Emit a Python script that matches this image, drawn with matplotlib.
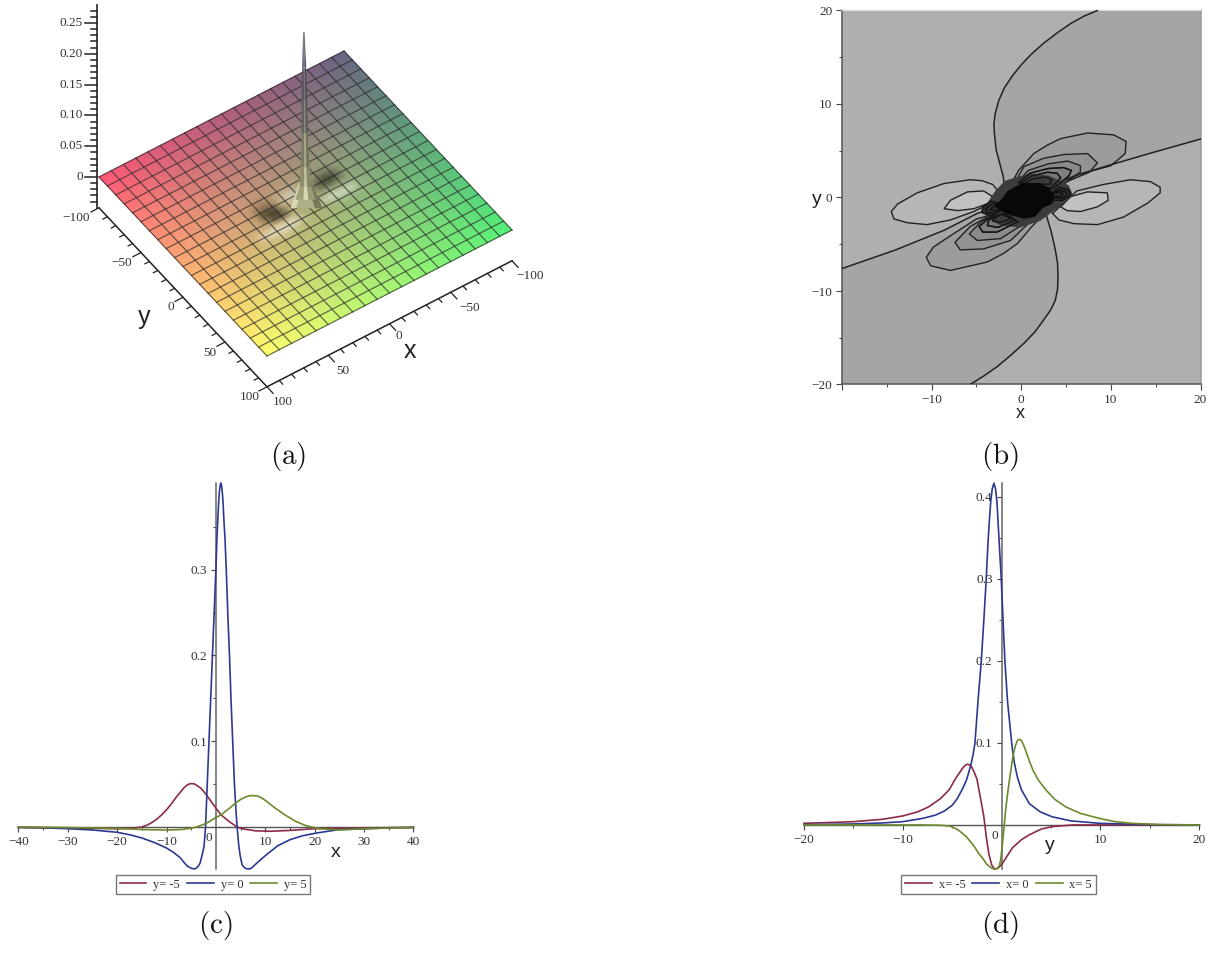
import numpy as np
import matplotlib
matplotlib.use('Agg')
import matplotlib.pyplot as plt
from matplotlib.ticker import FixedLocator, FixedFormatter

plt.rcParams['font.family'] = ['Liberation Serif', 'DejaVu Serif']
plt.rcParams['mathtext.fontset'] = 'cm'

W, H = 1213, 955

# (a) surface: mesh lines, and brightness change in percent around the peak
mesh_vals = list(range(-100, 101, 5))
grid_vals = list(range(-100, 101, 10))
shade_cols = [-45, -40, -35, -30, -25, -20, -15, -10, -5, 0, 5, 10, 15, 20, 25, 30, 35, 40, 45]
shade_rows = [-20, -15, -10, -5, 0, 5, 10, 15]
shade_pct = [
    [0, 0, 0, -5, -8, -5, 0, 0, 5, 8, 10, 5, 0, -5, -8, -5, 0, 0, 0],
    [0, 0, -10, -25, -30, -25, -10, 0, 10, 25, 30, 20, 0, -15, -20, -15, -5, 0, 0],
    [0, 0, -20, -45, -55, -50, -30, -5, 15, 35, 40, 30, 0, -35, -45, -35, -10, 0, 0],
    [0, 0, -10, -20, -30, -30, -20, 0, 10, 20, 20, 10, -20, -55, -60, -40, -10, 0, 0],
    [0, 5, 10, 10, 10, 10, 5, 0, 0, 0, 0, 0, -25, -50, -45, -20, -5, 0, 0],
    [5, 15, 40, 45, 50, 50, 40, 20, 0, 0, 0, 10, 25, 10, 15, 20, 15, 10, 5],
    [0, 5, 10, 15, 15, 15, 10, 5, 0, 0, 5, 25, 45, 55, 55, 55, 50, 40, 20],
    [0, 0, 0, 0, 0, 0, 0, 0, 0, 0, 0, 5, 15, 20, 20, 20, 15, 10, 5],
]
spike_z = [0.278, 0.221, 0.168, 0.114, 0.059, 0.027, 0.006]
spike_hw = [0.7, 2.0, 2.7, 3.3, 4.3, 6.0, 10.0]
spike_left = ['#50505f', '#55555f', '#62625f', '#7c7c66', '#8e8e6e', '#a0a07c']
spike_mid = ['#6a6a78', '#77777c', '#8a8a80', '#acac8c', '#c4c4a0', '#d8d8b4']
spike_right = ['#484856', '#505058', '#5c5c58', '#747460', '#88886a', '#9a9a76']
z_ticks = [0, 0.05, 0.10, 0.15, 0.20, 0.25]
z_labels = ['0', '0.05', '0.10', '0.15', '0.20', '0.25']
xy_ticks = [-100, -50, 0, 50, 100]
y3d_labels = ['\u2212100', '\u221250', '0', '50', '100']
x3d_labels = ['100', '50', '0', '\u221250', '\u2212100']

# (b) contours, x/y in plot units
zero_upper = [(8.5, 20), (7, 19.4), (5.5, 18.6), (4, 17.6), (2.5, 16.5), (1.2, 15.4), (0, 14.2), (-1, 13), (-1.9, 11.7),
              (-2.5, 10.4), (-2.9, 9), (-3.05, 7.9), (-3, 6.9), (-2.9, 6), (-2.8, 5.1), (-2.55, 4.2), (-2.3, 3.3),
              (-2, 2.2), (-1.9, 1.1), (-1.2, 0.1)]
zero_lower = [(-5.7, -20), (-4.2, -19.1), (-2.7, -18.1), (-1.2, -16.9), (0.3, -15.6), (1.5, -14.4), (2.5, -13.1),
              (3.3, -12), (3.8, -11), (4.05, -9.8), (4.1, -8.5), (4.05, -7), (3.8, -5.6), (3.55, -4.5), (3.3, -3.5),
              (2.8, -1.9), (2.5, -1)]
zero_line = [(-20, -7.6), (-14, -5.6), (-8.6, -3.5), (-4.9, -1.7), (-1.2, -0.6), (2.5, 1),
             (6.2, 2.4), (10, 3.5), (15, 4.9), (20, 6.25)]
lobes_left = [
    [(-2.5, 0.6), (-3.2, 1.4), (-4.4, 1.8), (-5.7, 1.9), (-8.6, 1.5), (-11.6, 0.5), (-13.8, -0.7), (-14.5, -1.5),
     (-14.2, -2.3), (-12.7, -2.7), (-10.5, -2.9), (-7.9, -2.4), (-5.3, -1.5), (-3.4, -0.6)],
    [(-3.2, 0.1), (-4.2, 0.7), (-6, 0.6), (-7.9, -0.3), (-8.6, -1.2), (-7.1, -1.4), (-5.3, -1.2),
     (-3.6, -0.6)],
]
lobes_right = [
    [(3.5, -1.7), (4.2, -2.4), (5.9, -2.8), (8.5, -2.9), (11.4, -2.1), (14.1, -0.6), (15.5, 0.5),
     (15.5, 1.1), (14.4, 1.7), (12.2, 1.9), (9.2, 1.4), (6.2, 0.7)],
    [(5.5, 0.1), (7.4, 0.6), (9.6, 0.5), (9.7, -0.3), (8.5, -1), (6.6, -1.5), (5.1, -1.4), (4.4, -1)],
]
lobes_upper = [
    [(-1.2, 1.3), (-0.3, 2.9), (1.4, 4.7), (2.9, 5.6), (4.4, 6.3), (7.4, 6.9), (10.3, 6.7), (11.7, 6), (11.6, 4.7),
     (10, 3.4), (6.2, 2.4), (4, 1)],
    [(-0.8, 1.5), (0.3, 3.3), (2.5, 4.2), (4.8, 4.6), (7.4, 4.7), (8.5, 3.7), (7.6, 2.7), (5.1, 1.7),
     (3.8, 0.8)],
    [(-0.5, 1.6), (0.8, 2.9), (3, 3.6), (5.2, 3.9), (6.6, 3.4), (6.6, 2.7), (5, 1.7), (3.6, 0.9)],
    [(-0.3, 1.6), (1, 2.6), (3, 3.1), (4.7, 3.2), (5.6, 2.9), (5.3, 2.3), (4.3, 1.5), (3.4, 0.9)],
    [(0, 1.6), (1.2, 2.3), (2.9, 2.7), (4, 2.6), (4.4, 2.1), (3.8, 1.5), (3.2, 1)],
    [(0.3, 1.5), (1.4, 2), (2.7, 2.2), (3.4, 1.9), (3.2, 1.4)],
]
lobes_lower = [
    [(2.2, -2.1), (1.1, -3.2), (-0.4, -4.9), (-2, -6), (-3.8, -6.9), (-7.9, -7.8), (-10.1, -7.3), (-10.6, -6.4),
     (-9.8, -5.3), (-7.6, -3.9), (-5, -2.3), (-2, -1.5)],
    [(1, -2.6), (-1.2, -4.6), (-4.2, -5.5), (-6.8, -5.6), (-7.4, -4.8), (-5.7, -3.1), (-3.8, -2.1)],
    [(0.3, -2.8), (-2.3, -4.4), (-4.9, -4.6), (-5.8, -3.9), (-4.5, -2.6), (-3.2, -1.9)],
    [(-0.4, -2.6), (-2.7, -3.7), (-4.3, -3.7), (-4.7, -3.1), (-3.6, -2.2), (-2, -1.7)],
    [(-0.7, -2.4), (-2.6, -3.2), (-3.8, -3), (-3.6, -2.4), (-2.2, -1.8)],
    [(-1, -2.2), (-2.4, -2.7), (-3.2, -2.5), (-2.7, -2), (-1.8, -1.7)],
]
knots = [
    [(3.4, 0.5), (4.2, 1.1), (5.3, 0.8), (5.5, 0.2), (4.6, -0.3), (3.6, -0.3)],
    [(3.4, 0.4), (4.2, 0.8), (5, 0.6), (5.1, 0.2), (4.4, -0.1), (3.6, 0)],
    [(3.4, 0.3), (4.2, 0.6), (4.7, 0.4), (4.3, 0.1), (3.6, 0.1)],
    [(-2.4, -0.6), (-3.4, -0.4), (-4.3, -1), (-4.4, -1.6), (-3.4, -2), (-2.3, -1.4)],
    [(-2.4, -0.7), (-3.3, -0.7), (-4, -1.2), (-3.8, -1.6), (-3, -1.7), (-2.4, -1.3)],
    [(-2.4, -0.8), (-3.1, -1), (-3.5, -1.3), (-2.9, -1.4), (-2.4, -1.2)],
]
halo = [(-4, -0.9), (-2.9, 0.7), (-1.8, 1.8), (1, 2.6), (3.2, 2.3), (5.3, 1.3), (5.8, 0.2), (4.4, -0.9), (2.1, -2.5),
        (-0.1, -3.2), (-2.3, -3), (-4, -1.9)]
black_core = [(-2.9, -0.9), (-2.1, -0.2), (-1.5, 0.6), (-0.8, 1), (0, 1.4), (2, 1.5), (3, 1), (3.6, 0.2), (3.4, -0.6),
              (2.3, -1.1), (1.5, -2), (0.3, -2.2), (-1.2, -1.8), (-2.2, -1.4)]
b_ticks = [-20, -10, 0, 10, 20]
b_minor = [-15, -5, 5, 15]
b_xlabels = ['', '\u221210', '0', '10', '20']
b_ylabels = ['\u221220', '\u221210', '0', '10', '20']

# (c) cuts along x
c_red = [(-40, -0.0005), (-30, -0.001), (-25, -0.0015), (-20, -0.0022), (-17, -0.0015), (-15, 0), (-14, 0.002), (-13, 0.005),
         (-12, 0.009), (-11, 0.014), (-10, 0.02), (-9, 0.027), (-8, 0.035), (-7, 0.042), (-6.4, 0.046), (-5.8, 0.049),
         (-5.3, 0.0503), (-4.9, 0.0506), (-4.4, 0.0502), (-4, 0.049), (-3, 0.045), (-2, 0.038), (-1, 0.03), (0, 0.022),
         (1, 0.0144), (2, 0.0095), (3, 0.005), (4.3, 0), (5.2, -0.002), (6.3, -0.003), (8, -0.0045), (11, -0.005),
         (15, -0.004), (20, -0.002), (30, -0.001), (40, -0.0005)]
c_blue = [(-40, -0.0005), (-35, -0.001), (-30, -0.002), (-25, -0.0035), (-20, -0.0062), (-17.5, -0.009),
          (-15, -0.0128), (-12.5, -0.018), (-10, -0.0245), (-8.5, -0.03), (-7.2, -0.036), (-6.5, -0.041), (-5.9, -0.045),
          (-5.4, -0.047), (-5, -0.048), (-4.4, -0.049), (-4.1, -0.0485), (-3.8, -0.047), (-3.5, -0.045), (-3.2, -0.042),
          (-2.8, -0.033), (-2.4, -0.0226), (-2.1, 0), (-1.75, 0.05), (-1.4, 0.1), (-1.05, 0.15), (-0.7, 0.2), (-0.35, 0.25),
          (0, 0.3), (0.2, 0.335), (0.4, 0.36), (0.55, 0.378), (0.7, 0.39), (0.85, 0.398), (1, 0.401), (1.15, 0.398),
          (1.3, 0.39), (1.45, 0.378), (1.6, 0.36), (1.85, 0.335), (2.1, 0.3), (2.4, 0.25), (2.75, 0.2), (3.05, 0.15),
          (3.4, 0.1), (3.75, 0.05), (4.05, 0.02), (4.3, 0), (4.6, -0.02), (4.9, -0.033), (5.3, -0.044), (5.7, -0.047),
          (6.1, -0.0485), (6.6, -0.049), (7, -0.0485), (7.4, -0.047), (8.3, -0.042), (10.3, -0.032), (12.5, -0.022),
          (15, -0.0148), (17.5, -0.0103), (20.4, -0.007), (25, -0.003), (30, -0.0022), (35, -0.001), (40, -0.0005)]
c_green = [(-40, -0.0002), (-30, -0.0007), (-20, -0.0016), (-15, -0.003), (-10, -0.0036), (-7, -0.003), (-5, -0.0015),
           (-3.9, 0), (-2, 0.004), (0, 0.011), (1, 0.014), (2, 0.0185), (3, 0.023), (4, 0.028), (5, 0.032), (6, 0.035),
           (6.7, 0.0362), (7.3, 0.0366), (7.9, 0.0364), (8.5, 0.036), (9.2, 0.034), (10, 0.031), (11, 0.0265), (12, 0.022),
           (13, 0.018), (14, 0.014), (15, 0.0105), (16, 0.007), (17, 0.0045), (18, 0.002), (19.3, 0), (21, -0.002),
           (25, -0.0035), (30, -0.002), (40, -0.0005)]
c_xticks = [-40, -30, -20, -10, 10, 20, 30, 40]
c_xminor = [-35, -25, -15, -5, 5, 15, 25, 35]
c_xlabels = ['\u221240', '\u221230', '\u221220', '\u221210', '10', '20', '30', '40']
c_yticks = [0.1, 0.2, 0.3]
c_yminor = [0.05, 0.15, 0.25, 0.35]
c_ylabels = ['0.1', '0.2', '0.3']
c_legend = ['y= -5', 'y= 0', 'y= 5']

# (d) cuts along y
d_red = [(-20, 0.002), (-15, 0.004), (-12, 0.007), (-10, 0.011), (-8.5, 0.016), (-7.4, 0.022), (-6.2, 0.032), (-5.3, 0.043),
         (-4.7, 0.056), (-4.3, 0.063), (-3.9, 0.07), (-3.7, 0.0725), (-3.5, 0.074), (-3.3, 0.0735), (-3.05, 0.071),
         (-2.8, 0.065), (-2.5, 0.056), (-2.3, 0.043), (-2.05, 0.027), (-1.8, 0.01), (-1.55, -0.015), (-1.3, -0.035),
         (-1, -0.049), (-0.7, -0.054), (-0.3, -0.052), (0.07, -0.047), (0.6, -0.037), (1.08, -0.028), (2, -0.018),
         (2.8, -0.012), (4, -0.005), (5.1, -0.002), (7.2, 0), (20, 0)]
d_blue = [(-20, 0.0004), (-15, 0.0012), (-12, 0.0025), (-10, 0.004), (-8, 0.008), (-6.7, 0.012), (-5.8, 0.017), (-5, 0.024),
          (-4.5, 0.032), (-4, 0.043), (-3.55, 0.055), (-3.14, 0.072), (-2.9, 0.085), (-2.7, 0.1), (-2.4, 0.15), (-2.06, 0.2),
          (-1.8, 0.25), (-1.56, 0.3), (-1.4, 0.34), (-1.25, 0.37), (-1.1, 0.395), (-0.95, 0.41), (-0.78, 0.4167),
          (-0.62, 0.41), (-0.48, 0.395), (-0.32, 0.36), (-0.04, 0.3), (0.14, 0.25), (0.33, 0.2), (0.6, 0.15), (0.85, 0.12),
          (1.06, 0.095), (1.3, 0.075), (1.6, 0.058), (2, 0.043), (2.8, 0.026), (3.9, 0.016), (5.1, 0.01), (7, 0.005),
          (9.9, 0.002), (15, 0.0004), (20, 0.0001)]
d_green = [(-20, 0), (-8, 0), (-6.3, -0.0003), (-5.3, -0.0012), (-4.9, -0.003), (-4.4, -0.006), (-3.6, -0.014), (-2.9, -0.024),
           (-2.3, -0.035), (-1.9, -0.041), (-1.5, -0.048), (-1.2, -0.051), (-0.95, -0.053), (-0.7, -0.054), (-0.44, -0.053),
           (-0.25, -0.05), (-0.1, -0.043), (0.15, -0.015), (0.4, 0.018), (0.62, 0.04), (0.84, 0.059), (1.08, 0.079),
           (1.25, 0.09), (1.4, 0.097), (1.6, 0.103), (1.8, 0.1045), (2, 0.103), (2.2, 0.098), (2.45, 0.09), (2.77, 0.079),
           (3.2, 0.066), (3.7, 0.055), (4.46, 0.043), (5.4, 0.031), (6.5, 0.022), (8, 0.014), (9.9, 0.008), (11.5, 0.004),
           (13.2, 0.002), (16, 0.0005), (20, 0)]
d_xticks = [-20, -10, 10, 20]
d_xminor = [-15, -5, 5, 15]
d_xlabels = ['\u221220', '\u221210', '10', '20']
d_yticks = [0.1, 0.2, 0.3, 0.4]
d_yminor = [0.05, 0.15, 0.25, 0.35]
d_ylabels = ['0.1', '0.2', '0.3', '0.4']
d_legend = ['x= -5', 'x= 0', 'x= 5']

red = '#8c2b45'
blue = '#2b3a90'
green = '#6c8a2c'
ink = '#333333'


def rect(left, top, right, bottom):
    return [left / W, 1 - bottom / H, (right - left) / W, (bottom - top) / H]


def proj(x, y, z=0.0):
    # maple view of panel (a) as an affine map to figure pixels
    px = 305.5 - 1.225 * np.asarray(x, float) + 0.84 * np.asarray(y, float)
    py = 203.5 + 0.63 * np.asarray(x, float) + 0.895 * np.asarray(y, float) - 616 * np.asarray(z, float)
    return px, py


fig = plt.figure(figsize=(W / 100, H / 100), dpi=100, facecolor='white')
over = fig.add_axes([0, 0, 1, 1])
over.set_xlim(0, W)
over.set_ylim(H, 0)
over.axis('off')

# --- panel a ---
gx, gy = np.meshgrid(mesh_vals, mesh_vals)
u = (np.array(gx, float) + 100) / 200
v = (np.array(gy, float) + 100) / 200
c_top = np.array([104, 100, 130]) / 255
c_left = np.array([255, 88, 120]) / 255
c_right = np.array([84, 240, 120]) / 255
c_bottom = np.array([255, 255, 110]) / 255
rgb = np.zeros(gx.shape + (3,))
for k in range(3):
    rgb[..., k] = ((1 - u) * (1 - v) * c_top[k] + u * (1 - v) * c_left[k]
                   + (1 - u) * v * c_right[k] + u * v * c_bottom[k])
for j, sy in enumerate(shade_rows):
    for i, sx in enumerate(shade_cols):
        s = shade_pct[j][i] / 100
        jj, ii = mesh_vals.index(sy), mesh_vals.index(sx)
        if s > 0:
            rgb[jj, ii] = rgb[jj, ii] + (1 - rgb[jj, ii]) * s
        else:
            rgb[jj, ii] = rgb[jj, ii] * (1 + s)
px, py = proj(gx, gy)
over.pcolormesh(px, py, rgb, shading='gouraud', zorder=1)
for g in grid_vals:
    a, b = proj([g, g], [-100, 100])
    over.plot(a, b, color='#2a2a2a', lw=0.85, alpha=0.7, zorder=2)
    a, b = proj([-100, 100], [g, g])
    over.plot(a, b, color='#2a2a2a', lw=0.85, alpha=0.7, zorder=2)

# spike foot then the spike itself, in slices
cx0, cy0 = proj(0, 0)
over.fill([cx0 - 6, cx0 + 6, cx0 + 16, cx0 - 14], [cy0 - 20, cy0 - 20, cy0 + 4, cy0 + 4], color='#b0b088', zorder=3)
over.fill([cx0 - 14, cx0 - 6, cx0 - 2, cx0 - 10], [cy0 + 4, cy0 - 20, cy0 - 20, cy0 + 4], color='#d8d8b0', zorder=3)
over.fill([cx0 + 6, cx0 + 16, cx0 + 10, cx0 + 2], [cy0 - 20, cy0 + 4, cy0 + 4, cy0 - 20], color='#77775c', zorder=3)
for i in range(len(spike_z) - 1):
    z1, z2 = spike_z[i], spike_z[i + 1]
    h1, h2 = spike_hw[i], spike_hw[i + 1]
    x1 = cx0 - 6 * z1
    x2 = cx0 - 6 * z2
    y1, y2 = cy0 - 616 * z1, cy0 - 616 * z2
    over.fill([x1 - h1, x1 - 0.2 * h1, x2 - 0.2 * h2, x2 - h2], [y1, y1, y2, y2], color=spike_left[i], lw=0, zorder=4)
    over.fill([x1 - 0.2 * h1, x1 + 0.3 * h1, x2 + 0.3 * h2, x2 - 0.2 * h2], [y1, y1, y2, y2], color=spike_mid[i], lw=0, zorder=4)
    over.fill([x1 + 0.3 * h1, x1 + h1, x2 + h2, x2 + 0.3 * h2], [y1, y1, y2, y2], color=spike_right[i], lw=0, zorder=4)

# axes of the 3d box
floor = -0.05
ax_col = '#222222'
a, b = proj([100, 100], [-100, -100], [floor, 0.279])
over.plot(a - 2, b, color=ax_col, lw=1.2, zorder=3)
a, b = proj([100, 100], [-100, 100], floor)
over.plot(a, b, color=ax_col, lw=1.1, zorder=3)
a, b = proj([-100, 100], [100, 100], floor)
over.plot(a, b, color=ax_col, lw=1.1, zorder=3)
for zt in np.arange(-4, 28) / 100:
    a, b = proj(100, -100, zt)
    major = abs((zt * 100) % 5) < 1e-6 or abs((zt * 100) % 5 - 5) < 1e-6
    over.plot([a - 2 - (12 if major else 6), a - 2], [b, b], color=ax_col, lw=1.1, zorder=3)
for t in range(-100, 101, 10):
    L = 9 if t % 50 == 0 else 5
    a, b = proj(100, t, floor)
    over.plot([a, a - 0.89 * L], [b, b + 0.46 * L], color=ax_col, lw=0.9, zorder=3)
    a, b = proj(t, 100, floor)
    over.plot([a, a + 0.68 * L], [b, b + 0.73 * L], color=ax_col, lw=0.9, zorder=3)
for zt, lab in zip(z_ticks, z_labels):
    a, b = proj(100, -100, zt)
    over.text(83, b, lab, ha='right', va='center', fontsize=9.5, color=ink, zorder=5)
y3d_off = [(-23, 10), (-19, 10), (-12, 10), (-15, 11), (-17, 10)]
for t, lab, off in zip(xy_ticks, y3d_labels, y3d_off):
    a, b = proj(100, t, floor)
    over.text(a + off[0], b + off[1], lab, ha='center', va='center', fontsize=9.5, color=ink, zorder=5)
x3d_off = [(16, 15), (15, 16), (9, 12), (19, 16), (18, 15)]
for t, lab, off in zip(xy_ticks[::-1], x3d_labels, x3d_off):
    a, b = proj(t, 100, floor)
    over.text(a + off[0], b + off[1], lab, ha='center', va='center', fontsize=9.5, color=ink, zorder=5)
over.text(144, 317, 'y', family='Liberation Sans', fontsize=18, ha='center', va='center', color='#222222', zorder=5)
over.text(410, 351, 'x', family='Liberation Sans', fontsize=18, ha='center', va='center', color='#222222', zorder=5)

# --- panel b ---
ax_b = fig.add_axes(rect(842, 10.5, 1200.5, 384.5))
ax_b.set_xlim(-20, 20)
ax_b.set_ylim(-20, 20)
ax_b.set_facecolor('#afafaf')
dark = '#a5a5a5'
up = np.array(zero_upper)
low = np.array(zero_lower)
line = np.array(zero_line)
ax_b.fill(list(up[:, 0]) + [6.2, 10, 15, 20, 20], list(up[:, 1]) + [2.4, 3.5, 4.9, 6.25, 20], color=dark, lw=0)
ax_b.fill(list(line[:5, 0]) + list(low[::-1, 0]) + [-20], list(line[:5, 1]) + list(low[::-1, 1]) + [-20], color=dark, lw=0)
lobe_greys = ['#9c9c9c', '#939393', '#8a8a8a', '#808080', '#767676', '#6a6a6a']
for lobes in (lobes_upper, lobes_lower):
    for pts, c in zip(lobes, lobe_greys):
        arr = np.array(pts + pts[:1])
        ax_b.fill(arr[:, 0], arr[:, 1], color=c, lw=0, zorder=2)
        ax_b.plot(arr[:, 0], arr[:, 1], color='#222222', lw=1.0, zorder=3)
for lobes in (lobes_left, lobes_right):
    for pts, c in zip(lobes, ['#b6b6b6', '#c2c2c2']):
        arr = np.array(pts + pts[:1])
        ax_b.fill(arr[:, 0], arr[:, 1], color=c, lw=0, zorder=2)
        ax_b.plot(arr[:, 0], arr[:, 1], color='#222222', lw=1.0, zorder=3)
for arr in (up, low, line):
    ax_b.plot(arr[:, 0], arr[:, 1], color='#222222', lw=1.1, zorder=3)
shell = np.array(halo)
ax_b.fill(shell[:, 0], shell[:, 1], color='#3c3c3c', lw=0, zorder=4)
for pts in knots:
    arr = np.array(pts + pts[:1])
    ax_b.fill(arr[:, 0], arr[:, 1], color='#303030', lw=0, zorder=4)
    ax_b.plot(arr[:, 0], arr[:, 1], color='#111111', lw=1.0, zorder=5)
for pts in lobes_upper[3:] + lobes_lower[3:]:
    arr = np.array(pts + pts[:1])
    ax_b.plot(arr[:, 0], arr[:, 1], color='#141414', lw=1.0, zorder=5)
core = np.array(black_core)
ax_b.fill(core[:, 0], core[:, 1], color='#080808', zorder=6)
ax_b.xaxis.set_major_locator(FixedLocator(b_ticks))
ax_b.xaxis.set_major_formatter(FixedFormatter(b_xlabels))
ax_b.xaxis.set_minor_locator(FixedLocator(b_minor))
ax_b.yaxis.set_major_locator(FixedLocator(b_ticks))
ax_b.yaxis.set_major_formatter(FixedFormatter(b_ylabels))
ax_b.yaxis.set_minor_locator(FixedLocator(b_minor))
ax_b.tick_params(which='major', length=4, width=0.8, color='#444444', labelsize=9.5, labelcolor=ink, pad=3)
ax_b.tick_params(which='minor', length=2.5, width=0.7, color='#444444')
ax_b.spines['left'].set_color('#555555')
ax_b.spines['bottom'].set_color('#555555')
ax_b.spines['right'].set_color('#999999')
ax_b.spines['top'].set_color('#eeeeee')
for s in ax_b.spines.values():
    s.set_linewidth(1.1)
over.text(1020, 413, 'x', family='Liberation Sans', fontsize=13, ha='center', va='center', color='#222222')
over.text(817, 199, 'y', family='Liberation Sans', fontsize=14, ha='center', va='center', color='#222222')


def cut_panel(box, xlim, ylim, curves, xticks, xminor, xlabels, yticks, yminor, ylabels, names, leg_center, zero_at, label, label_at):
    ax = fig.add_axes(rect(*box))
    ax.patch.set_alpha(0)
    ax.set_xlim(*xlim)
    ax.set_ylim(*ylim)
    handles = []
    for pts, c, nm in zip(curves, (red, blue, green), names):
        arr = np.array(pts)
        h, = ax.plot(arr[:, 0], arr[:, 1], color=c, lw=1.2, label=nm, clip_on=False, zorder=3)
        handles.append(h)
    for s in ('top', 'right'):
        ax.spines[s].set_visible(False)
    ax.spines['left'].set_position(('data', 0))
    ax.spines['bottom'].set_position(('data', 0))
    ax.spines['left'].set_color('#666666')
    ax.spines['left'].set_linewidth(1.1)
    ax.spines['bottom'].set_color('#555555')
    ax.spines['bottom'].set_linewidth(1.0)
    ax.xaxis.set_major_locator(FixedLocator(xticks))
    ax.xaxis.set_major_formatter(FixedFormatter(xlabels))
    ax.xaxis.set_minor_locator(FixedLocator(xminor))
    ax.yaxis.set_major_locator(FixedLocator(yticks))
    ax.yaxis.set_major_formatter(FixedFormatter(ylabels))
    ax.yaxis.set_minor_locator(FixedLocator(yminor))
    ax.tick_params(which='major', length=3.5, width=0.8, color='#444444', labelsize=9.5, labelcolor=ink, pad=3)
    ax.tick_params(which='minor', length=2, width=0.7, color='#444444')
    over.text(zero_at[0], zero_at[1], '0', fontsize=9.5, color=ink, ha='center', va='center')
    over.text(label_at[0], label_at[1], label, family='Liberation Sans', fontsize=14, ha='center', va='center', color='#222222')
    leg = ax.legend(handles=handles, loc='center', ncol=3, fontsize=9,
                    bbox_to_anchor=(leg_center / W, 1 - 884.5 / H), bbox_transform=fig.transFigure,
                    frameon=True, fancybox=False, edgecolor='#777777', framealpha=1, borderpad=0.3,
                    handlelength=2.15, handletextpad=0.55, columnspacing=0.55, labelcolor=ink)
    leg.get_frame().set_linewidth(1.0)
    return ax


cut_panel((18.3, 483, 413.5, 869), (-40, 40), (-0.049, 0.401), (c_red, c_blue, c_green),
          c_xticks, c_xminor, c_xlabels, c_yticks, c_yminor, c_ylabels, c_legend,
          213, (209, 838), 'x', (336, 852))
cut_panel((804, 483, 1199.3, 869), (-20, 20), (-0.0537, 0.417), (d_red, d_blue, d_green),
          d_xticks, d_xminor, d_xlabels, d_yticks, d_yminor, d_ylabels, d_legend,
          998.5, (995, 836), 'y', (1050, 845))

# panel letters
for lab, cx, cy in [('(a)', 288, 456), ('(b)', 1000, 456), ('(c)', 215, 925), ('(d)', 1000, 925)]:
    over.text(cx, cy, r'$\mathrm{' + lab + '}$', fontsize=21, ha='center', va='center', color='#111111')

fig.savefig('out.png', dpi=100)
